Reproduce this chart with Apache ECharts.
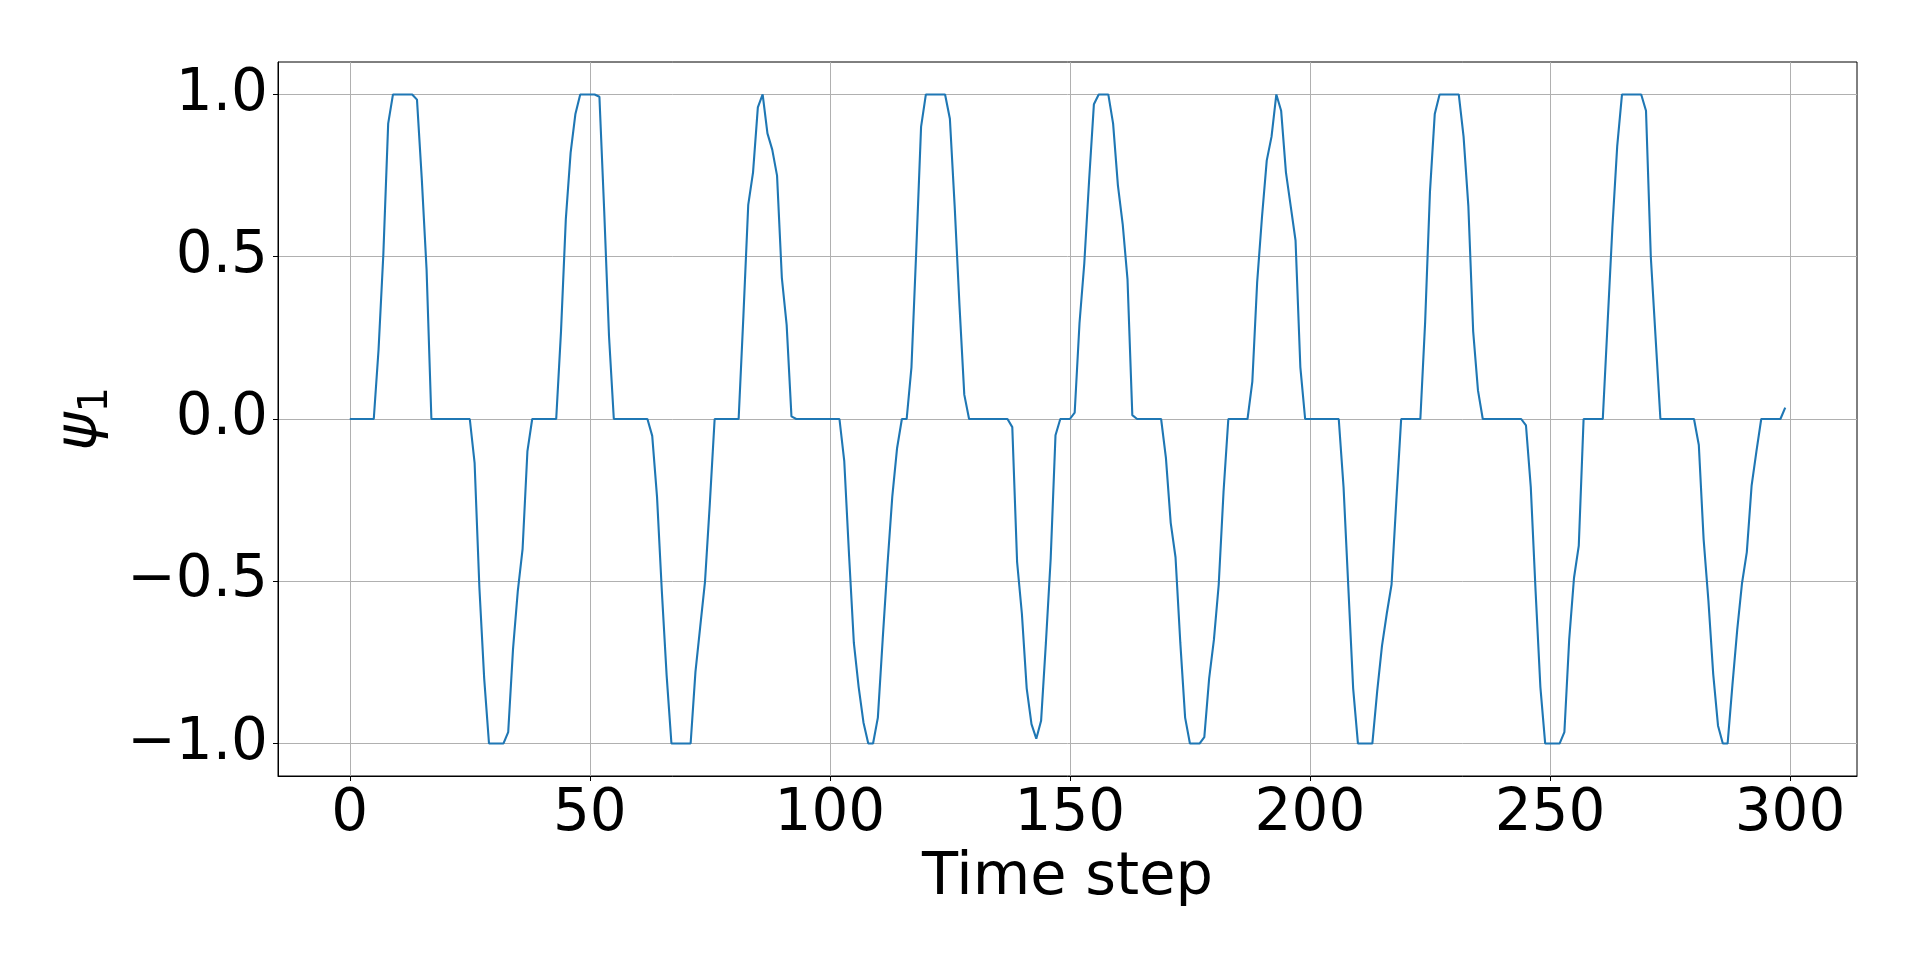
<!DOCTYPE html>
<html>
<head>
<meta charset="utf-8">
<script src="https://cdn.jsdelivr.net/npm/echarts@6/dist/echarts.min.js"></script>
<style>
  html, body { margin: 0; padding: 0; background: #fff; }
  #chart { width: 1920px; height: 969px; }
</style>
</head>
<body>
<div id="chart"></div>
<script>
// psi_1 value at each time step 0..299
var psi = [
  0, 0, 0, 0, 0, 0, 0.215, 0.51, 0.91, 1.0,
  1.0, 1.0, 1.0, 1.0, 0.984, 0.74, 0.46, 0, 0, 0,
  0, 0, 0, 0, 0, 0, -0.135, -0.52, -0.80, -1.0,
  -1.0, -1.0, -1.0, -0.965, -0.71, -0.53, -0.40, -0.10, 0, 0,
  0, 0, 0, 0, 0.27, 0.615, 0.82, 0.94, 1.0, 1.0,
  1.0, 1.0, 0.993, 0.64, 0.255, 0, 0, 0, 0, 0,
  0, 0, 0, -0.052, -0.24, -0.53, -0.79, -1.0, -1.0, -1.0,
  -1.0, -1.0, -0.78, -0.64, -0.50, -0.26, 0, 0, 0, 0,
  0, 0, 0.32, 0.66, 0.76, 0.96, 1.0, 0.88, 0.83, 0.75,
  0.435, 0.29, 0.008, 0, 0, 0, 0, 0, 0, 0,
  0, 0, 0, -0.13, -0.42, -0.69, -0.826, -0.935, -1.0, -1.0,
  -0.92, -0.68, -0.45, -0.24, -0.09, 0, 0, 0.16, 0.52, 0.90,
  1.0, 1.0, 1.0, 1.0, 1.0, 0.925, 0.655, 0.35, 0.075, 0,
  0, 0, 0, 0, 0, 0, 0, 0, -0.025, -0.44,
  -0.60, -0.83, -0.94, -0.985, -0.93, -0.69, -0.43, -0.05, 0, 0,
  0, 0.02, 0.295, 0.48, 0.735, 0.97, 1.0, 1.0, 1.0, 0.91,
  0.72, 0.60, 0.43, 0.012, 0, 0, 0, 0, 0, 0,
  -0.12, -0.32, -0.426, -0.69, -0.92, -1.0, -1.0, -1.0, -0.98, -0.80,
  -0.68, -0.51, -0.225, 0, 0, 0, 0, 0, 0.115, 0.42,
  0.62, 0.796, 0.87, 1.0, 0.95, 0.76, 0.655, 0.55, 0.16, 0,
  0, 0, 0, 0, 0, 0, 0, -0.21, -0.52, -0.83,
  -1.0, -1.0, -1.0, -1.0, -0.84, -0.70, -0.60, -0.51, -0.25, 0,
  0, 0, 0, 0, 0.30, 0.70, 0.94, 1.0, 1.0, 1.0,
  1.0, 1.0, 0.87, 0.655, 0.27, 0.088, 0, 0, 0, 0,
  0, 0, 0, 0, 0, -0.02, -0.21, -0.53, -0.826, -1.0,
  -1.0, -1.0, -1.0, -0.965, -0.68, -0.49, -0.39, 0, 0, 0,
  0, 0, 0.295, 0.59, 0.84, 1.0, 1.0, 1.0, 1.0, 1.0,
  0.95, 0.50, 0.25, 0, 0, 0, 0, 0, 0, 0,
  0, -0.08, -0.37, -0.56, -0.786, -0.945, -1.0, -1.0, -0.82, -0.65,
  -0.506, -0.41, -0.205, -0.10, 0, 0, 0, 0, 0, 0.035
]

var xTicks = [0, 50, 100, 150, 200, 250, 300]
var yTicks = [-1.0, -0.5, 0.0, 0.5, 1.0]

var xTitle = 'Time step'
var font = 'DejaVu Sans'

var points = psi.map(function (v, i) { return [i, v] })

var option = {
  animation: false,
  backgroundColor: '#fff',
  grid: {
    left: 278,
    right: 63,
    top: 62,
    bottom: 193,
    show: true,
    borderColor: '#000',
    borderWidth: 1
  },
  xAxis: {
    type: 'value',
    min: -14.95,
    max: 313.95,
    name: xTitle,
    nameLocation: 'middle',
    nameGap: 71,
    nameTextStyle: { fontFamily: font, fontSize: 59, color: '#000' },
    axisLine: { show: true, onZero: false, lineStyle: { color: '#000', width: 1 } },
    axisTick: { show: true, length: 5, lineStyle: { color: '#000', width: 1 }, customValues: xTicks },
    axisLabel: {
      fontFamily: font, fontSize: 58, color: '#000', margin: 10,
      customValues: xTicks,
      formatter: function (v) { return String(v) }
    },
    splitLine: { show: true, lineStyle: { color: '#b0b0b0', width: 1 } }
  },
  yAxis: {
    type: 'value',
    min: -1.1,
    max: 1.1,
    name: '{psi|ψ}{sub|1}',
    nameLocation: 'middle',
    nameGap: 154,
    nameTextStyle: {
      rich: {
        psi: { fontFamily: font, fontStyle: 'italic', fontSize: 58, color: '#000' },
        sub: { fontFamily: font, fontSize: 40, color: '#000', padding: [30, 0, 0, 0] }
      }
    },
    axisLine: { show: true, onZero: false, lineStyle: { color: '#000', width: 1 } },
    axisTick: { show: true, length: 5, lineStyle: { color: '#000', width: 1 }, customValues: yTicks },
    axisLabel: {
      fontFamily: font, fontSize: 58, color: '#000', margin: 10,
      customValues: yTicks,
      formatter: function (v) {
        return (v < 0 ? '\u2212' : '') + Math.abs(v).toFixed(1)
      }
    },
    splitLine: { show: true, lineStyle: { color: '#b0b0b0', width: 1 } }
  },
  series: [{
    type: 'line',
    data: points,
    showSymbol: false,
    lineStyle: { color: '#1f77b4', width: 2.1 },
    itemStyle: { color: '#1f77b4' }
  }]
}

var myChart = echarts.init(document.getElementById('chart'))
myChart.setOption(option)
</script>
</body>
</html>
